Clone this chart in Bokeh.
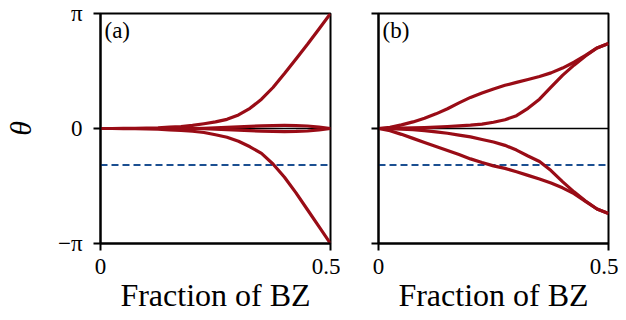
import math
from bokeh.plotting import figure
from bokeh.layouts import row
from bokeh.models import Span, Label, FixedTicker, Range1d
from bokeh.embed import file_html
from bokeh.resources import INLINE

# ---------------- data ----------------
k = [0.0, 0.025, 0.05, 0.075, 0.1, 0.125, 0.15, 0.175, 0.2, 0.225, 0.25,
     0.275, 0.3, 0.325, 0.35, 0.375, 0.4, 0.425, 0.45, 0.475, 0.5]

# panel (a)
a_up = [0, 0, 0.003, 0.006, 0.012, 0.02, 0.035, 0.055, 0.085, 0.13, 0.18,
        0.25, 0.37, 0.55, 0.8, 1.12, 1.5, 1.9, 2.3, 2.72, 3.1416]
a_down = [0, 0, -0.003, -0.006, -0.012, -0.02, -0.035, -0.05, -0.075, -0.11, -0.17,
          -0.24, -0.35, -0.5, -0.68, -0.97, -1.33, -1.76, -2.22, -2.68, -3.1416]
a_loop_up = [0, 0, 0, 0, 0, 0, 0, 0, 0, 0.005, 0.015,
             0.03, 0.045, 0.06, 0.072, 0.08, 0.083, 0.08, 0.068, 0.04, 0]
a_loop_down = [0, 0, 0, 0, 0, 0, 0, 0, 0, -0.005, -0.015,
               -0.03, -0.045, -0.06, -0.072, -0.08, -0.083, -0.08, -0.068, -0.04, 0]

# panel (b)
b_up_outer = [0, 0.03, 0.1, 0.18, 0.28, 0.4, 0.54, 0.7, 0.85, 0.97, 1.08,
              1.18, 1.26, 1.34, 1.42, 1.52, 1.65, 1.81, 2.0, 2.2, 2.32]
b_up_inner = [0, 0.003, 0.008, 0.015, 0.025, 0.04, 0.055, 0.07, 0.09, 0.12, 0.17,
              0.24, 0.35, 0.55, 0.8, 1.13, 1.45, 1.73, 1.98, 2.2, 2.32]
b_down_outer = [0, -0.06, -0.16, -0.27, -0.38, -0.49, -0.6, -0.71, -0.83, -0.93, -1.02,
                -1.09, -1.18, -1.28, -1.38, -1.49, -1.62, -1.78, -1.99, -2.2, -2.32]
b_down_inner = [0, -0.005, -0.015, -0.03, -0.06, -0.09, -0.13, -0.18, -0.23, -0.3, -0.37,
                -0.46, -0.59, -0.75, -0.9, -1.15, -1.45, -1.73, -1.98, -2.2, -2.32]

dashed_level = -1.0
x_ticks = [0, 0.5]
x_tick_labels = {0: "0", 0.5: "0.5"}
y_ticks = [-math.pi, 0, math.pi]
y_tick_labels = {-math.pi: "\u2212\u03c0", 0: "0", math.pi: "\u03c0"}
panel_labels = ["(a)", "(b)"]

RED = "#990c16"
BLUE = "#1b4f91"
SERIF = "Liberation Serif"


def make_panel(curves, label, show_ylabels, left_border):
    p = figure(frame_width=230, frame_height=230, output_backend="svg",
               toolbar_location=None,
               x_range=Range1d(0, 0.5), y_range=Range1d(-math.pi, math.pi),
               min_border_left=left_border, min_border_right=10,
               min_border_top=13, min_border_bottom=77)
    p.grid.visible = False
    p.outline_line_color = "black"
    p.outline_line_width = 2
    p.outline_line_alpha = 1
    p.background_fill_color = "white"
    p.border_fill_color = "white"

    for ax in (p.xaxis[0], p.yaxis[0]):
        ax.axis_line_width = 2
        ax.major_tick_line_width = 2
        ax.major_tick_in = 0
        ax.major_tick_out = 7
        ax.minor_tick_line_color = None
        ax.major_label_text_font = SERIF
        ax.major_label_text_font_size = "23px"
        ax.major_label_text_color = "black"
        ax.axis_label_text_font = SERIF
        ax.axis_label_text_color = "black"

    p.xaxis.ticker = FixedTicker(ticks=x_ticks)
    p.xaxis.major_label_overrides = x_tick_labels
    p.xaxis.major_label_standoff = 8
    p.xaxis.axis_label = "Fraction of BZ"
    p.xaxis.axis_label_text_font_size = "32px"
    p.xaxis.axis_label_text_font_style = "normal"
    p.xaxis.axis_label_standoff = 0

    p.yaxis.ticker = FixedTicker(ticks=y_ticks)
    if show_ylabels:
        p.yaxis.major_label_overrides = y_tick_labels
        p.yaxis.axis_label = "\u03b8"
        p.yaxis.axis_label_text_font_size = "30px"
        p.yaxis.axis_label_text_font_style = "italic"
        p.yaxis.axis_label_standoff = 18
        p.yaxis.major_label_standoff = 11
    else:
        p.yaxis.major_label_overrides = {t: "" for t in y_ticks}
        p.yaxis.major_label_standoff = 0

    p.add_layout(Span(location=0, dimension="width", line_color="black",
                      line_width=1.6, level="underlay"))
    p.add_layout(Span(location=dashed_level, dimension="width", line_color=BLUE,
                      line_width=2, line_dash="7 4", level="underlay"))
    for ys in curves:
        p.line(k, ys, line_color=RED, line_width=3.2, line_join="round")

    p.add_layout(Label(x=4, y=226, x_units="screen", y_units="screen", text=label,
                       text_font=SERIF, text_font_size="23px", text_baseline="top",
                       text_color="black"))
    return p


p1 = make_panel([a_loop_up, a_loop_down, a_up, a_down], panel_labels[0], True, 100)
p2 = make_panel([b_up_outer, b_up_inner, b_down_outer, b_down_inner], panel_labels[1],
                False, 38)

layout = row(p1, p2, spacing=0)
open("out.html", "w").write(file_html(layout, INLINE))
